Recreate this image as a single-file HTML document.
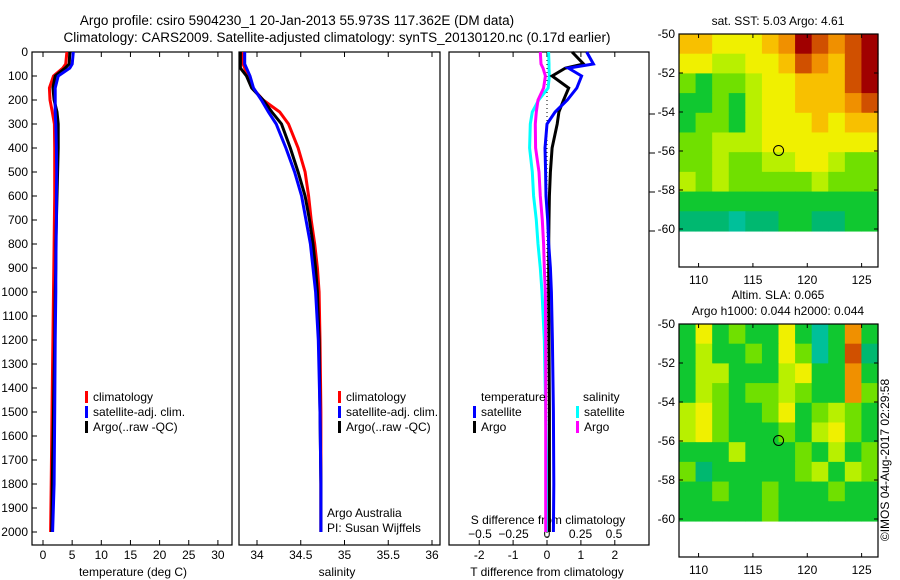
<!DOCTYPE html>
<html><head><meta charset="utf-8"><style>
body{margin:0;background:#fff}
svg{display:block;font-family:"Liberation Sans",sans-serif;font-size:12px}
</style></head><body>
<svg id="c" width="900" height="580" viewBox="0 0 900 580" xmlns="http://www.w3.org/2000/svg">
<text x="297" y="25" text-anchor="middle" font-size="13.5">Argo profile: csiro 5904230_1 20-Jan-2013 55.973S 117.362E (DM data)</text>
<text x="337" y="42" text-anchor="middle" font-size="13.5">Climatology: CARS2009. Satellite-adjusted climatology: synTS_20130120.nc (0.17d earlier)</text>
<g id="g"></g>
<text transform="translate(889,460) rotate(-90)" text-anchor="middle" font-size="12">©IMOS 04-Aug-2017 02:29:58</text>
</svg>
<script>
// ---- data ----
const depthTicks=[0,100,200,300,400,500,600,700,800,900,1000,1100,1200,1300,1400,1500,1600,1700,1800,1900,2000];
const tempTicks=[0,5,10,15,20,25,30];
const salTicks=[34,34.5,35,35.5,36];
const tdiffTicks=[-2,-1,0,1,2];
const sdiffTicks=[-0.5,-0.25,0,0.25,0.5];
const depths=[0,50,67,100,150,200,250,300,400,500,600,700,800,900,1000,1200,1500,1800,2000];
const tempClim=[4.1,3.9,3.4,1.8,1.1,1.2,1.6,1.95,2.0,2.0,2.0,1.95,1.9,1.85,1.8,1.7,1.55,1.4,1.3];
const tempSat=[5.2,5.0,4.6,2.6,2.1,2.1,2.1,2.2,2.3,2.35,2.3,2.3,2.25,2.2,2.2,2.1,2.0,1.9,1.65];
const tempArgo=[4.6,4.5,3.8,2.1,1.7,1.9,2.4,2.6,2.6,2.5,2.4,2.3,2.2,2.2,2.1,2.0,1.8,1.6,1.5];
const salClim=[33.84,33.84,33.86,33.9,33.95,34.07,34.26,34.36,34.47,34.55,34.59,34.62,34.66,34.69,34.71,34.72,34.73,34.73,34.73];
const salSat=[33.86,33.86,33.88,33.92,33.96,34.05,34.13,34.22,34.33,34.43,34.51,34.56,34.61,34.64,34.67,34.7,34.72,34.73,34.73];
const salArgo=[33.81,33.81,33.81,33.88,33.94,34.07,34.17,34.28,34.38,34.47,34.55,34.6,34.64,34.67,34.69,34.71,34.72,34.73,34.73];
const tdSat=[1.17,1.37,0.63,1.02,0.88,0.6,0.24,0.0,-0.06,-0.04,-0.03,0.02,0.05,0.1,0.13,0.16,0.19,0.2,0.19];
const tdArgo=[0.74,1.08,0.54,0.15,0.64,0.49,0.35,0.3,0.15,0.1,0.07,0.06,0.05,0.05,0.05,0.06,0.07,0.07,0.07];
const sdSat=[0.012,0.015,0.015,0.018,0.008,-0.062,-0.11,-0.125,-0.13,-0.11,-0.1,-0.08,-0.067,-0.05,-0.037,-0.02,-0.01,0.0,0.0];
const sdArgo=[-0.05,-0.045,-0.03,-0.012,-0.025,-0.067,-0.08,-0.087,-0.085,-0.06,-0.05,-0.035,-0.025,-0.02,-0.012,-0.01,-0.01,-0.01,-0.01];
const latTicks=[-50,-52,-54,-56,-58,-60];
const lonTicks=[110,115,120,125];
const sstGrid=[
[7,7,6,6,6,7,8,10,9,8,9,10],[6,6,5,5,6,6,7,9,8,7,9,10],[4,3,4,4,5,6,6,7,7,7,9,10],
[3,3,4,3,5,6,6,7,7,7,8,9],[3,4,4,3,5,6,6,6,7,6,7,7],[4,4,5,5,5,6,6,6,6,6,6,6],
[4,4,5,4,4,5,5,6,6,5,4,4],[5,4,5,4,4,4,4,4,5,4,4,4],[3,3,3,3,3,3,3,3,3,3,3,3],[2,2,2,1,2,2,3,3,2,2,3,3]];
const slaGrid=[
[3,6,3,4,3,3,6,3,1,3,8,3],[3,5,3,3,4,3,6,4,1,3,9,2],[3,5,5,3,3,3,5,6,3,3,8,3],
[3,5,4,3,4,4,5,4,3,3,8,4],[5,6,4,3,3,4,6,3,4,5,4,3],[5,6,4,3,3,3,4,3,5,6,4,3],
[3,3,3,5,3,3,3,4,3,5,3,4],[4,2,3,3,3,3,3,4,5,3,5,4],[3,3,4,3,3,4,3,3,3,4,3,3],[3,3,3,3,3,4,3,3,3,3,3,3]];
const floatLon=117.362, floatLat=-55.973;

// ---- helpers ----
const NS="http://www.w3.org/2000/svg", G=document.getElementById('g');
function el(t,a,txt){const e=document.createElementNS(NS,t);for(const k in a)e.setAttribute(k,a[k]);if(txt!==undefined)e.textContent=txt;G.appendChild(e);return e;}
const yD=d=>52+0.24*d;
const TOP=52,BOT=545;
const panels=[{x0:32,x1:232},{x0:239,x1:440},{x0:449,x1:649}];
const xT=t=>43+5.83*t, xS=s=>257+87.5*(s-34), xTd=v=>547+33.9*v, xSd=v=>547+134*v;

panels.forEach((p,i)=>{
  const r=el('rect',{x:p.x0,y:TOP,width:p.x1-p.x0,height:BOT-TOP,fill:'none',stroke:'#000','stroke-width':1.2});
  
  
});
// depth axis
depthTicks.forEach(d=>{
  const t=el('text',{x:28,y:yD(d)+4,'text-anchor':'end'},String(d));
  
  
  el('line',{x1:32,x2:37,y1:yD(d),y2:yD(d),stroke:'#000'});
});
function xAxis(ticks,fx,ylab,fmt,top){
  ticks.forEach(v=>{
    const x=fx(v);
    el('line',{x1:x,x2:x,y1:BOT,y2:BOT-5,stroke:'#000'});
    if(top) el('line',{x1:x,x2:x,y1:TOP,y2:TOP+5,stroke:'#000'});
    const t=el('text',{x:x,y:ylab,'text-anchor':'middle'},fmt(v));
    
    
  });
}
xAxis(tempTicks,xT,559,String,true);
xAxis(salTicks,xS,559,String,true);
xAxis(tdiffTicks,xTd,559,String,true);
sdiffTicks.forEach(v=>{const t=el('text',{x:xSd(v),y:538,'text-anchor':'middle'},String(v).replace('-','\u2212'));
  
  });
[[133,'temperature (deg C)','temp-axis-title'],[337,'salinity','salinity-axis-title'],[547,'T difference from climatology','tdiff-axis-title']].forEach(a=>{
  const t=el('text',{x:a[0],y:576,'text-anchor':'middle'},a[1]);
  
  
});
{const t=el('text',{x:548,y:524,'text-anchor':'middle'},'S difference from climatology');

}
// zero dotted line in panel 3
el('line',{x1:xTd(0),x2:xTd(0),y1:TOP,y2:BOT,stroke:'#000','stroke-dasharray':'1,3'});
// right-side stray ticks
latTicks.forEach((v,i)=>{if(i>0&&i<5)el('line',{x1:649,x2:655,y1:34+19.5*(-50-v)+41,y2:34+19.5*(-50-v)+41,stroke:'#000'});});

function profile(vals,fx,color,name){
  const pts=depths.map((d,i)=>fx(vals[i]).toFixed(1)+','+yD(d).toFixed(1)).join(' ');
  const p=el('polyline',{points:pts,fill:'none',stroke:color,'stroke-width':3,'stroke-linejoin':'miter'});
  
  
}
profile(tempClim,xT,'#f00','temp-climatology-line');
profile(tempArgo,xT,'#000','temp-argo-line');
profile(tempSat,xT,'#00f','temp-satellite-line');
profile(salClim,xS,'#f00','salinity-climatology-line');
profile(salArgo,xS,'#000','salinity-argo-line');
profile(salSat,xS,'#00f','salinity-satellite-line');
profile(sdSat,xSd,'#0ff','sdiff-satellite-line');
profile(sdArgo,xSd,'#f0f','sdiff-argo-line');
profile(tdArgo,xTd,'#000','tdiff-argo-line');
profile(tdSat,xTd,'#00f','tdiff-satellite-line');

function legend(x,y,color,label,name){
  el('rect',{x:x,y:y-9,width:3,height:12,fill:color});
  const t=el('text',{x:x+8,y:y+1},label);
  
  
}
[[85,'climatology','#f00'],[85,'satellite-adj. clim.','#00f'],[85,'Argo(..raw -QC)','#000']].forEach((a,i)=>{
  legend(a[0],400+i*15,a[2],a[1],'temp-legend-entry');
  legend(338,400+i*15,a[2],a[1],'salinity-legend-entry');
});
{const t=el('text',{x:481,y:401},'temperature');
const u=el('text',{x:583,y:401},'salinity');}
legend(473,415,'#00f','satellite','diff-legend-entry');
legend(473,430,'#000','Argo','diff-legend-entry');
legend(576,415,'#0ff','satellite','diff-legend-entry');
legend(576,430,'#f0f','Argo','diff-legend-entry');
{const t=el('text',{x:327,y:517},'Argo Australia');
const u=el('text',{x:327,y:532},'PI: Susan Wijffels');}

// ---- maps ----
const pal=['#00c8c8','#00c09a','#00b870','#10c830','#70e000','#b8f000','#f0f000','#f8c000','#f09000','#d05000','#a00000'];
const MX0=679,MX1=878,lonX=l=>MX0+10.87*(l-108.2);
function map(top,grid,title1,title2,name){
  const latY=l=>top+19.5*(-50-l);
  const nc=grid[0].length, nr=grid.length;
  const cw=(MX1-MX0)/nc, ch=(latY(-60.1)-top)/nr;
  grid.forEach((row,r)=>row.forEach((v,c)=>{
    const e=el('rect',{x:(MX0+c*cw).toFixed(2),y:(top+r*ch).toFixed(2),width:(cw+0.6).toFixed(2),height:(ch+0.6).toFixed(2),fill:pal[v]});
    
    
  }));
  const f=el('rect',{x:MX0,y:top,width:MX1-MX0,height:233,fill:'none',stroke:'#000','stroke-width':1.2});
  
  
  latTicks.forEach(v=>{const y=latY(v);
    el('line',{x1:MX0,x2:MX0+4,y1:y,y2:y,stroke:'#000'});
    el('line',{x1:MX1,x2:MX1-4,y1:y,y2:y,stroke:'#000'});
    const t=el('text',{x:675,y:y+4,'text-anchor':'end'},String(v));
    
    });
  lonTicks.forEach(v=>{const x=lonX(v);
    el('line',{x1:x,x2:x,y1:top,y2:top+4,stroke:'#000'});
    el('line',{x1:x,x2:x,y1:top+233,y2:top+229,stroke:'#000'});
    const t=el('text',{x:x,y:top+250,'text-anchor':'middle'},String(v));
    
    });
  const m=el('circle',{cx:lonX(floatLon),cy:latY(floatLat),r:5,fill:'none',stroke:'#000','stroke-width':1});
  
  
  if(title2){
    const a=el('text',{x:778,y:top-25,'text-anchor':'middle'},title1);
    const b=el('text',{x:778,y:top-9,'text-anchor':'middle'},title2);
  } else {
    const a=el('text',{x:778,y:top-9,'text-anchor':'middle'},title1);
  }
}
map(34,sstGrid,'sat. SST: 5.03 Argo: 4.61',null,'sst-map');
map(324,slaGrid,'Altim. SLA: 0.065','Argo h1000: 0.044 h2000: 0.044','sla-map');
</script>
</body></html>
